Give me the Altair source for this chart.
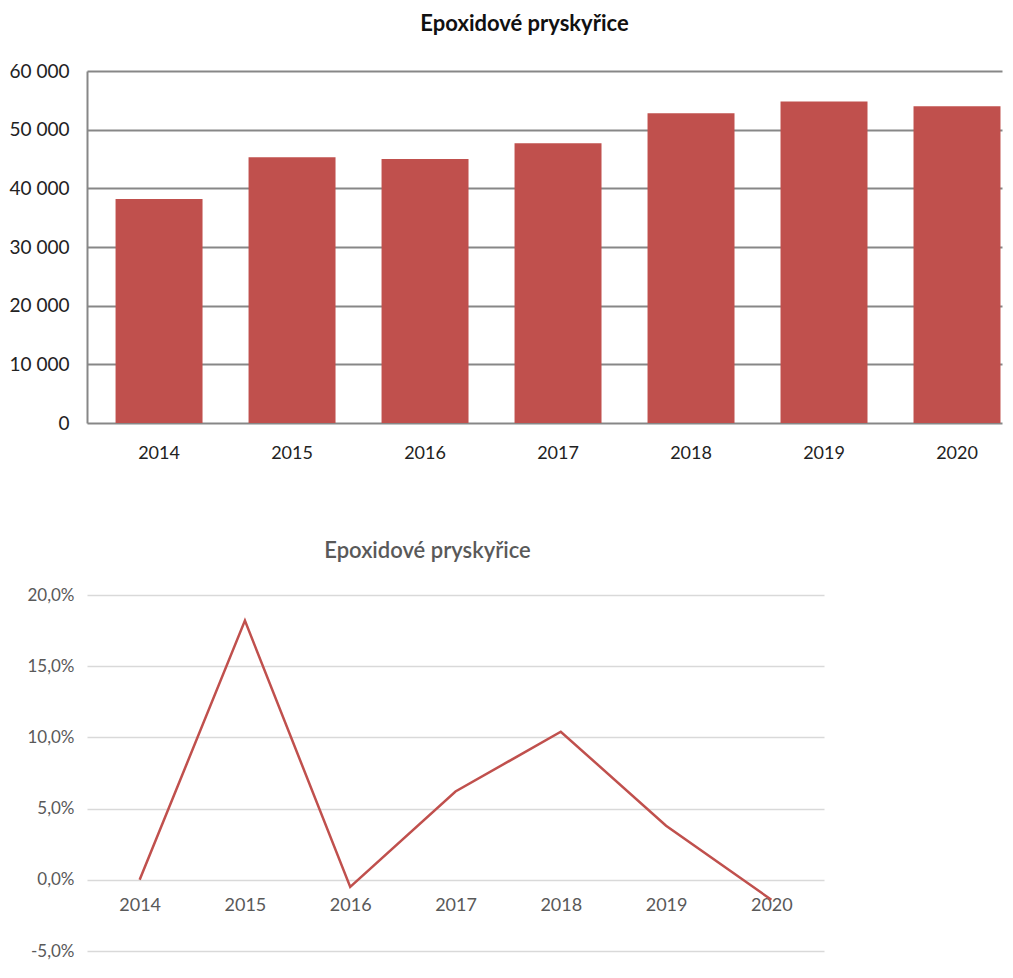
import altair as alt
import pandas as pd

years = ["2014", "2015", "2016", "2017", "2018", "2019", "2020"]
production = [38200, 45300, 45000, 47700, 52800, 54800, 54000]
growth = [0.000, 0.182, -0.005, 0.062, 0.104, 0.038, -0.014]
title_text = "Epoxidové pryskyřice"

df_bar = pd.DataFrame({"rok": years, "hodnota": production})
df_line = pd.DataFrame({"rok": years, "zmena": growth})

FONT = "Lato"
RED = "#C0504D"

bars = alt.Chart(df_bar, title=alt.Title(
    title_text, fontSize=22, fontWeight="bold", color="#111111", font=FONT,
    anchor="middle", offset=26, dx=-20,
)).mark_bar(color=RED).encode(
    x=alt.X("rok:N", sort=years, title=None,
            scale=alt.Scale(paddingInner=0.346, paddingOuter=0.113, align=0.95),
            axis=alt.Axis(labelAngle=0, domain=False, ticks=False, grid=False,
                          labelFont=FONT, labelFontSize=18, labelColor="#222222",
                          labelPadding=21)),
    y=alt.Y("hodnota:Q", title=None,
            scale=alt.Scale(domain=[0, 60000], nice=False),
            axis=alt.Axis(values=[0, 10000, 20000, 30000, 40000, 50000, 60000],
                          labelExpr="replace(format(datum.value, ','), regexp(',', 'g'), ' ')",
                          domain=True, domainColor="#878787", domainWidth=2,
                          ticks=False, grid=True, gridColor="#878787", gridWidth=2,
                          labelFont=FONT, labelFontSize=19, labelColor="#222222",
                          labelPadding=18)),
).properties(width=915, height=352)

line = alt.Chart(df_line, title=alt.Title(
    title_text, fontSize=22, fontWeight=600, color="#595959", font=FONT,
    anchor="middle", offset=23, dx=-28,
)).mark_line(color=RED, strokeWidth=2.5).encode(
    x=alt.X("rok:N", sort=years, title=None,
            scale=alt.Scale(type="point", padding=0.5),
            axis=alt.Axis(labelAngle=0, domain=False, ticks=False, grid=False,
                          offset=-71.2, labelPadding=17,
                          labelFont=FONT, labelFontSize=18, labelColor="#595959")),
    y=alt.Y("zmena:Q", title=None,
            scale=alt.Scale(domain=[-0.05, 0.20], nice=False),
            axis=alt.Axis(values=[-0.05, 0, 0.05, 0.10, 0.15, 0.20],
                          labelExpr="replace(replace(format(datum.value, '.1%'), '.', ','), '−', '-')",
                          domain=False, ticks=False, grid=True, gridColor="#D9D9D9",
                          gridWidth=1.5,
                          labelFont=FONT, labelFontSize=17, labelColor="#595959",
                          labelPadding=13)),
).properties(width=737, height=356)

chart = alt.vconcat(bars, line, spacing=76).properties(
    padding={"top": 4, "left": 0, "right": 0, "bottom": 0},
    background="white",
).configure_view(stroke="transparent")

chart.save("out.html", embed_options={"renderer": "svg", "actions": False})
